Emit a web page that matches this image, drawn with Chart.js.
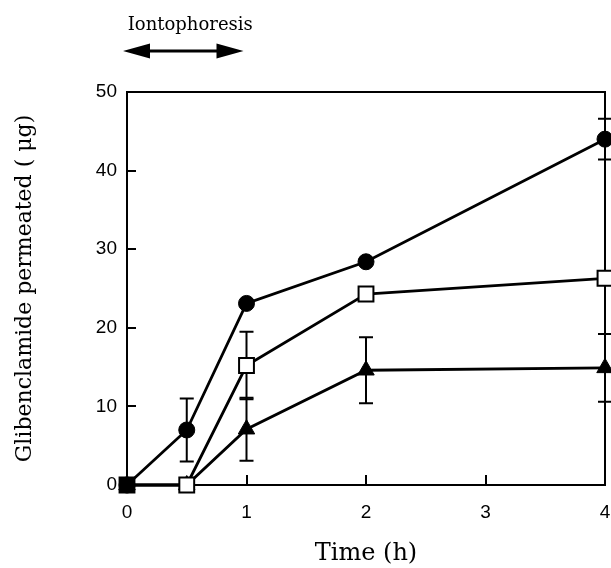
<!DOCTYPE html>
<html><head><meta charset="utf-8">
<script src="https://cdn.jsdelivr.net/npm/chart.js@4/dist/chart.umd.min.js"></script>
<style>html,body{margin:0;padding:0;background:#fff}</style>
</head><body>
<canvas id="c" width="611" height="568"></canvas>
<script>
// ---- data ----
const timePoints = [0, 0.5, 1, 2, 4];
const circleValues = [0, 7.0, 23.1, 28.4, 44.0];
const circleErrors = [0, 4.0, 0, 0, 2.6];
const squareValues = [0, 0, 15.2, 24.3, 26.3];
const squareErrors = [0, 0, 4.3, 0, 0];
const triangleValues = [0, 0, 7.1, 14.6, 14.9];
const triangleErrors = [0, 0, 4.0, 4.2, 4.3];
const xTicks = [0, 1, 2, 3, 4];
const yTicks = [0, 10, 20, 30, 40, 50];
const xTitle = 'Time (h)';
const yTitle = 'Glibenclamide permeated ( μg)';
const annotationText = 'Iontophoresis';
const annotationRange = [0, 1];

const toXY = (vals) => timePoints.map((t, i) => ({x: t, y: vals[i]}));
const errorSets = [squareErrors, circleErrors, triangleErrors];

const boxPlugin = {
  id: 'box',
  beforeDatasetsDraw(chart) {
    const {ctx, chartArea: a, scales: {x, y}} = chart;
    ctx.save();
    ctx.strokeStyle = '#000';
    ctx.lineWidth = 2;
    ctx.strokeRect(a.left, a.top, a.right - a.left, a.bottom - a.top);
    ctx.beginPath();
    yTicks.forEach(v => { const py = Math.round(y.getPixelForValue(v)); ctx.moveTo(a.left, py); ctx.lineTo(a.left + 9, py); });
    xTicks.forEach(v => { const px = Math.round(x.getPixelForValue(v)); ctx.moveTo(px, a.bottom); ctx.lineTo(px, a.bottom - 10); });
    ctx.stroke();
    // error bars
    ctx.lineWidth = 2;
    chart.data.datasets.forEach((ds, di) => {
      const errs = errorSets[di];
      ds.data.forEach((p, i) => {
        const e = errs[i];
        if (!e) return;
        const px = x.getPixelForValue(p.x);
        const top = y.getPixelForValue(p.y + e);
        const bot = y.getPixelForValue(p.y - e);
        ctx.beginPath();
        ctx.moveTo(px, top); ctx.lineTo(px, bot);
        ctx.moveTo(px - 7, top); ctx.lineTo(px + 7, top);
        ctx.moveTo(px - 7, bot); ctx.lineTo(px + 7, bot);
        ctx.stroke();
      });
    });
    ctx.restore();
  },
  afterDraw(chart) {
    const {ctx, scales: {x}} = chart;
    const x0 = x.getPixelForValue(annotationRange[0]) - 4;
    const x1 = x.getPixelForValue(annotationRange[1]) - 3;
    const ay = 51;
    ctx.save();
    ctx.fillStyle = '#000';
    ctx.strokeStyle = '#000';
    ctx.font = '18px "DejaVu Serif"';
    ctx.textAlign = 'center';
    ctx.textBaseline = 'alphabetic';
    ctx.fillText(annotationText, (x0 + x1) / 2 + 7, 30);
    ctx.lineWidth = 3;
    ctx.beginPath();
    ctx.moveTo(x0 + 20, ay); ctx.lineTo(x1 - 20, ay);
    ctx.stroke();
    ctx.beginPath();
    ctx.moveTo(x0, ay); ctx.lineTo(x0 + 27, ay - 7.5); ctx.lineTo(x0 + 27, ay + 7.5); ctx.closePath();
    ctx.moveTo(x1, ay); ctx.lineTo(x1 - 27, ay - 7.5); ctx.lineTo(x1 - 27, ay + 7.5); ctx.closePath();
    ctx.fill();
    ctx.restore();
  }
};

new Chart(document.getElementById('c'), {
  type: 'line',
  data: {
    datasets: [
      {
        label: 'square', data: toXY(squareValues),
        borderColor: '#000', borderWidth: 2.8,
        pointStyle: 'rect', pointRadius: 10.5,
        pointBackgroundColor: squareValues.map((v, i) => i === 0 ? '#000' : '#fff'),
        pointBorderColor: '#000', pointBorderWidth: 2, clip: false
      },
      {
        label: 'circle', data: toXY(circleValues),
        borderColor: '#000', borderWidth: 2.8,
        pointStyle: 'circle', pointRadius: 8,
        pointBackgroundColor: '#000', pointBorderColor: '#000', pointBorderWidth: 1, clip: false
      },
      {
        label: 'triangle', data: toXY(triangleValues),
        borderColor: '#000', borderWidth: 2.8,
        pointStyle: 'triangle', pointRadius: 9.5,
        pointBackgroundColor: '#000', pointBorderColor: '#000', pointBorderWidth: 1, clip: false
      }
    ]
  },
  options: {
    responsive: false,
    animation: false,
    devicePixelRatio: 1,
    layout: { padding: { top: 92, right: 6, left: 0, bottom: 0 }, autoPadding: false },
    plugins: { legend: { display: false }, tooltip: { enabled: false } },
    elements: { line: { tension: 0 } },
    scales: {
      x: {
        type: 'linear', min: 0, max: 4,
        afterBuildTicks: s => { s.ticks = xTicks.map(v => ({value: v})); },
        afterFit: s => { s.height = 83; s.paddingLeft = 0; s.paddingRight = 0; s.paddingTop = 0; s.paddingBottom = 0; },
        grid: { display: false, drawTicks: false },
        border: { display: false },
        ticks: { color: '#000', padding: 16, font: { family: '"Liberation Sans"', size: 19 } },
        title: { display: true, text: xTitle, color: '#000', padding: { top: 0, bottom: 0 },
                 font: { family: '"DejaVu Serif"', size: 24 } }
      },
      y: {
        type: 'linear', min: 0, max: 50,
        afterBuildTicks: s => { s.ticks = yTicks.map(v => ({value: v})); },
        afterFit: s => { s.width = 127; s.paddingLeft = 0; s.paddingRight = 0; s.paddingTop = 0; s.paddingBottom = 0; },
        grid: { display: false, drawTicks: false },
        border: { display: false },
        ticks: { color: '#000', padding: 10, font: { family: '"Liberation Sans"', size: 19 } },
        title: { display: true, text: yTitle, color: '#000', padding: { top: 12, bottom: 0 },
                 font: { family: '"DejaVu Serif"', size: 22 } }
      }
    }
  },
  plugins: [boxPlugin]
});
</script>
</body></html>
